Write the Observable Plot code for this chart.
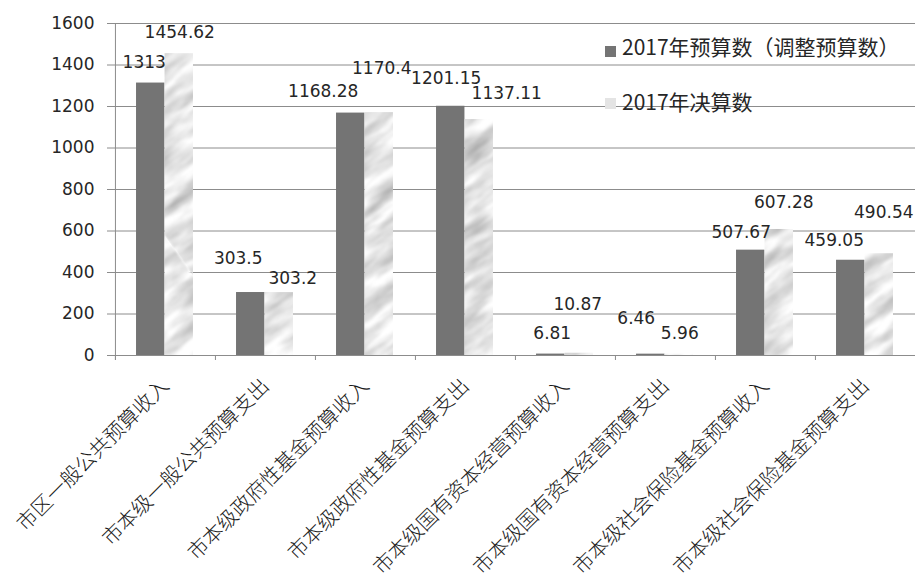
<!DOCTYPE html>
<html>
<head>
<meta charset="utf-8">
<script src="https://cdn.jsdelivr.net/npm/d3@7"></script>
<script src="https://cdn.jsdelivr.net/npm/@observablehq/plot@0.6"></script>
<style>
  html, body { margin: 0; padding: 0; background: #fff; overflow: hidden; }
  #chart { position: relative; width: 915px; height: 581px; }
  .legend-text {
    position: absolute; white-space: nowrap;
    font-family: "Noto Sans CJK SC", sans-serif; font-size: 21px; line-height: 21px; color: #262626;
  }
  .swatch { position: absolute; width: 11px; height: 11px; }
</style>
</head>
<body>
<div id="chart"></div>
<script>
// 2017 budget vs. final accounts (units as published), by budget category
const categories = [
  "市区一般公共预算收入",
  "市本级一般公共预算支出",
  "市本级政府性基金预算收入",
  "市本级政府性基金预算支出",
  "市本级国有资本经营预算收入",
  "市本级国有资本经营预算支出",
  "市本级社会保险基金预算收入",
  "市本级社会保险基金预算支出"
];
const seriesNames = ["2017年预算数（调整预算数）", "2017年决算数"];
const budget = [1313, 303.5, 1168.28, 1201.15, 6.81, 6.46, 507.67, 459.05];
const finalAccounts = [1454.62, 303.2, 1170.4, 1137.11, 10.87, 5.96, 607.28, 490.54];
const yTicks = [0, 200, 400, 600, 800, 1000, 1200, 1400, 1600];

// hand-placed label nudges [dx, dy] in pixels, so neighbouring labels don't collide
const budgetLabelNudge = [[-7, 1], [-13, -12], [-28, 0], [-5, -6], [1, 1], [-15, -14], [-10, 4], [-17, 2]];
const finalLabelNudge = [[0, 1], [13, 8], [2, -22], [27, -4], [-2, -27], [0, 1], [4, -5], [4, -19]];

const W = 915, H = 581;
const ML = 114, MR = 0, MT = 23, MB = 226;
const step = (W - ML - MR) / categories.length;
const barW = step * 0.285;
const gap = step * 0.21;

const darkFill = "#747474";
const lineGray = "#8c8c8c";
const textColor = "#262626";
const numFont = "DejaVu Sans";

const budgetRows = categories.map((c, i) => ({category: c, value: budget[i], series: seriesNames[0]}));
const finalRows = categories.map((c, i) => ({category: c, value: finalAccounts[i], series: seriesNames[1]}));

const valueLabels = (rows, nudges, side) => rows.map((r, i) => Plot.text([r], {
  x: "category", y: "value", text: d => String(d.value),
  dx: side * barW / 2 + nudges[i][0], dy: -22 + nudges[i][1],
  lineAnchor: "middle", fontSize: 17, fontFamily: numFont, fill: textColor
}));

const chart = Plot.plot({
  width: W, height: H,
  marginLeft: ML, marginRight: MR, marginTop: MT, marginBottom: MB,
  x: {domain: categories, padding: 0, axis: null},
  y: {domain: [0, 1600], axis: null},
  style: {background: "#fff", overflow: "visible"},
  marks: [
    Plot.gridY(yTicks, {stroke: lineGray, strokeOpacity: 1}),
    Plot.axisY(yTicks, {
      tickSize: 7, tickPadding: 13, stroke: lineGray, fill: textColor,
      fontSize: 17, fontFamily: numFont, tickFormat: d => String(d), label: null
    }),
    // vertical axis line at the left edge of the first category
    Plot.ruleX([categories[0]], {x: d => d, dx: -step / 2, y1: 1600, y2: 0, insetBottom: -5, stroke: lineGray}),
    // category boundary ticks below the baseline
    Plot.ruleX(categories, {x: d => d, dx: -step / 2, y1: 0, y2: 0, insetBottom: -5, stroke: lineGray}),
    Plot.barY(budgetRows, {
      x: "category", y: "value", fill: darkFill,
      insetLeft: gap, insetRight: step - gap - barW
    }),
    Plot.barY(finalRows, {
      x: "category", y: "value", fill: "url(#marble)",
      insetLeft: gap + barW, insetRight: step - gap - 2 * barW
    }),
    ...valueLabels(budgetRows, budgetLabelNudge, -1),
    ...valueLabels(finalRows, finalLabelNudge, 1),
    Plot.text(categories, {
      x: d => d, frameAnchor: "bottom", dy: 27, text: d => d,
      rotate: -45, textAnchor: "end", lineAnchor: "middle",
      fontSize: 20.5, fontWeight: 300, fontFamily: "Noto Sans CJK SC", fill: "#1a1a1a"
    })
  ]
});

// soft stone-like texture used for the final-accounts bars
const ns = "http://www.w3.org/2000/svg";
const defs = document.createElementNS(ns, "defs");
defs.innerHTML = `
  <filter id="marbleNoise" x="0" y="0" width="1" height="1" color-interpolation-filters="sRGB">
    <feTurbulence type="fractalNoise" baseFrequency="0.018 0.07" numOctaves="4" seed="5" result="t"/>
    <feColorMatrix in="t" type="matrix" values="
      0.55 0 0 0 0.62
      0.55 0 0 0 0.62
      0.55 0 0 0 0.62
      0 0 0 0 1"/>
    <feGaussianBlur stdDeviation="0.8"/>
  </filter>
  <pattern id="marble" patternUnits="userSpaceOnUse" width="915" height="581" patternTransform="rotate(-35)">
    <rect width="915" height="581" filter="url(#marbleNoise)"/>
  </pattern>`;
chart.insertBefore(defs, chart.firstChild);

const root = document.getElementById("chart");
root.appendChild(chart);

// legend drawn over the upper-right part of the plot
const legendItems = [
  {name: seriesNames[0], fill: darkFill, sx: 605, sy: 46, tx: 622, ty: 36},
  {name: seriesNames[1], fill: "#e4e4e4", sx: 605, sy: 98, tx: 622, ty: 91}
];
for (const item of legendItems) {
  const sw = document.createElement("div");
  sw.className = "swatch";
  sw.style.left = item.sx + "px";
  sw.style.top = item.sy + "px";
  sw.style.background = item.fill;
  root.appendChild(sw);
  const t = document.createElement("div");
  t.className = "legend-text";
  t.style.left = item.tx + "px";
  t.style.top = item.ty + "px";
  t.textContent = item.name;
  root.appendChild(t);
}
</script>
</body>
</html>
